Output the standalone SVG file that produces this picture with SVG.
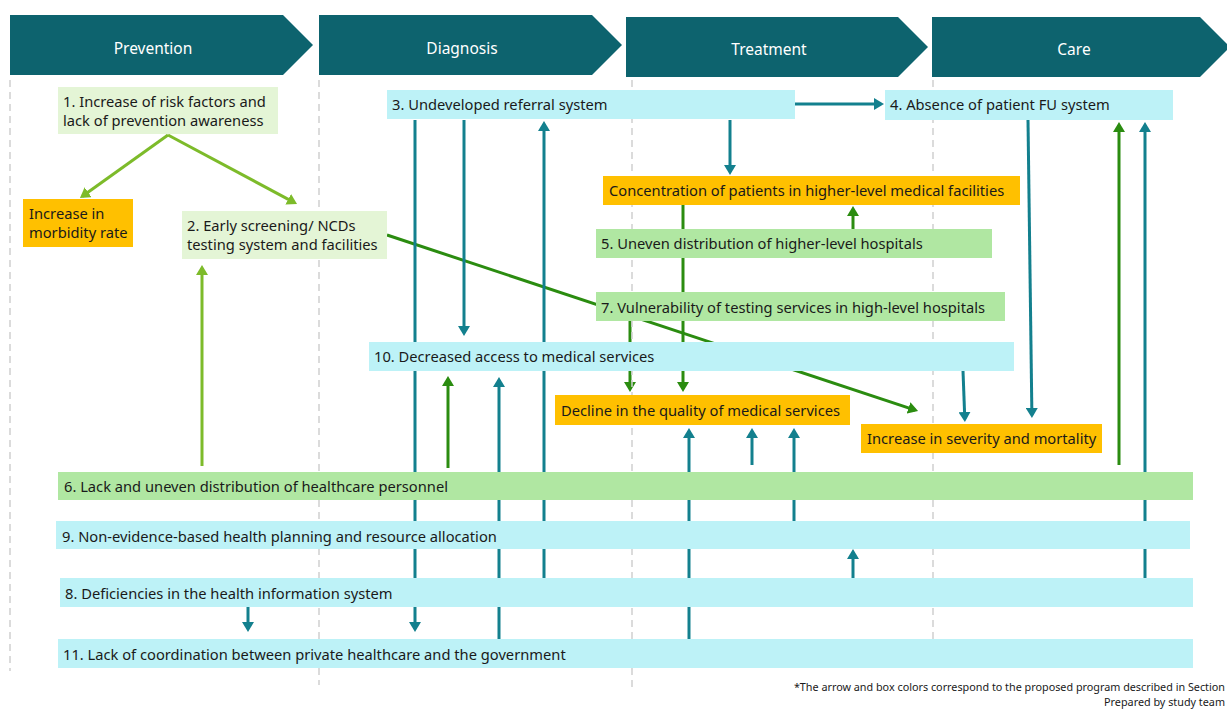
<svg xmlns="http://www.w3.org/2000/svg" width="1227" height="709" viewBox="0 0 1227 709">
  <style>
    .hdr { fill: #0d636e; }
    .hdr-t { fill: #ffffff; font-family: "Noto Sans", "Open Sans", sans-serif; font-size: 15.5px; text-anchor: middle; }
    .t { fill: #1a1a1a; font-family: "Noto Sans", "Open Sans", sans-serif; font-size: 14.7px; }
    .lg { fill: #e4f5d6; }
    .mg { fill: #b0e7a2; }
    .cy { fill: #bdf2f7; }
    .or { fill: #ffc000; }
    .grid { stroke: #cfcfcf; stroke-width: 1.5; stroke-dasharray: 7 5; fill: none; }
    .teal { stroke: #13808e; stroke-width: 3; fill: none; marker-end: url(#ah-teal); }
    .dg { stroke: #2b8c10; stroke-width: 3; fill: none; marker-end: url(#ah-dg); }
    .lgr { stroke: #7dbb2a; stroke-width: 3; fill: none; marker-end: url(#ah-lg); }
    .note { fill: #1a1a1a; font-family: "Noto Sans", "Open Sans", sans-serif; font-size: 10.8px; text-anchor: end; }
  </style>
  <defs>
    <marker id="ah-teal" markerUnits="userSpaceOnUse" markerWidth="10" markerHeight="12" refX="7" refY="6" orient="auto">
      <path d="M0,0 L10,6 L0,12 z" fill="#13808e"/>
    </marker>
    <marker id="ah-dg" markerUnits="userSpaceOnUse" markerWidth="10" markerHeight="12" refX="7" refY="6" orient="auto">
      <path d="M0,0 L10,6 L0,12 z" fill="#2b8c10"/>
    </marker>
    <marker id="ah-lg" markerUnits="userSpaceOnUse" markerWidth="10" markerHeight="12" refX="7" refY="6" orient="auto">
      <path d="M0,0 L10,6 L0,12 z" fill="#7dbb2a"/>
    </marker>
  </defs>

  <rect width="1227" height="709" fill="#ffffff"/>

  <!-- stage headers -->
  <g id="stage-prevention">
    <polygon class="hdr" points="10,15 283,15 313,45 283,75 10,75"/>
    <text class="hdr-t" x="153" y="54">Prevention</text>
  </g>
  <g id="stage-diagnosis">
    <polygon class="hdr" points="319,15 592,15 622,45 592,75 319,75"/>
    <text class="hdr-t" x="462" y="54">Diagnosis</text>
  </g>
  <g id="stage-treatment">
    <polygon class="hdr" points="626,17 898,17 928,47 898,77 626,77"/>
    <text class="hdr-t" x="769" y="55">Treatment</text>
  </g>
  <g id="stage-care">
    <polygon class="hdr" points="932,17 1200,17 1230,47 1200,77 932,77"/>
    <text class="hdr-t" x="1074" y="55">Care</text>
  </g>

  <!-- connectors -->
  <g id="connectors">
    <!-- light green -->
    <path class="lgr" d="M168,135 L82.4,196.3"/>
    <path class="lgr" d="M168,135 L294.4,202.6"/>
    <path class="lgr" d="M202,466 V268"/>
    <!-- dark green -->
    <path class="dg" d="M387,235 L915.2,410.1"/>
    <path class="dg" d="M853,229 V209"/>
    <path class="dg" d="M683,205 V389"/>
    <path class="dg" d="M630,321 V389"/>
    <path class="dg" d="M448,468 V379"/>
    <path class="dg" d="M1119,465 V125"/>
    <!-- teal -->
    <path class="teal" d="M795,104 H881"/>
    <path class="teal" d="M415,120 V629"/>
    <path class="teal" d="M248,607 V629"/>
    <path class="teal" d="M464,120 V333"/>
    <path class="teal" d="M544,578 V124"/>
    <path class="teal" d="M499,639 V380"/>
    <path class="teal" d="M730,120 V172"/>
    <path class="teal" d="M689,639 V431"/>
    <path class="teal" d="M752,465 V431"/>
    <path class="teal" d="M794,521 V431"/>
    <path class="teal" d="M853,578 V552"/>
    <path class="teal" d="M963,371 L964.8,419"/>
    <path class="teal" d="M1028,120 L1031.9,415"/>
    <path class="teal" d="M1145,578 V125"/>
  </g>

  <!-- stage separators -->
  <g id="separators">
    <line class="grid" x1="10" y1="80" x2="10" y2="671"/>
    <line class="grid" x1="319" y1="80" x2="319" y2="685"/>
    <line class="grid" x1="632" y1="80" x2="632" y2="688"/>
    <line class="grid" x1="933" y1="80" x2="933" y2="668"/>
  </g>

  <!-- nodes -->
  <g id="n1">
    <rect class="lg" x="58" y="87" width="220" height="47"/>
    <text class="t" x="63" y="107">1. Increase of risk factors and</text>
    <text class="t" x="63" y="126">lack of prevention awareness</text>
  </g>
  <g id="morbidity">
    <rect class="or" x="23" y="199" width="110" height="48"/>
    <text class="t" x="29" y="219">Increase in</text>
    <text class="t" x="29" y="238">morbidity rate</text>
  </g>
  <g id="n2">
    <rect class="lg" x="182" y="211" width="205" height="48"/>
    <text class="t" x="187" y="231">2. Early screening/ NCDs</text>
    <text class="t" x="187" y="250">testing system and facilities</text>
  </g>
  <g id="n3">
    <rect class="cy" x="387" y="90" width="408" height="29"/>
    <text class="t" x="392" y="110">3. Undeveloped referral system</text>
  </g>
  <g id="n4">
    <rect class="cy" x="885" y="90" width="288" height="30"/>
    <text class="t" x="890" y="110">4. Absence of patient FU system</text>
  </g>
  <g id="concentration">
    <rect class="or" x="603" y="176" width="417" height="29"/>
    <text class="t" x="609" y="196">Concentration of patients in higher-level medical facilities</text>
  </g>
  <g id="n5">
    <rect class="mg" x="596" y="229" width="396" height="29"/>
    <text class="t" x="601" y="249">5. Uneven distribution of higher-level hospitals</text>
  </g>
  <g id="n7">
    <rect class="mg" x="596" y="292" width="409" height="29"/>
    <text class="t" x="601" y="313">7. Vulnerability of testing services in high-level hospitals</text>
  </g>
  <g id="n10">
    <rect class="cy" x="369" y="342" width="645" height="29"/>
    <text class="t" x="374" y="362">10. Decreased access to medical services</text>
  </g>
  <g id="quality">
    <rect class="or" x="555" y="395" width="295" height="30"/>
    <text class="t" x="561" y="416">Decline in the quality of medical services</text>
  </g>
  <g id="severity">
    <rect class="or" x="861" y="424" width="241" height="29"/>
    <text class="t" x="867" y="444">Increase in severity and mortality</text>
  </g>
  <g id="n6">
    <rect class="mg" x="58" y="472" width="1135" height="28"/>
    <text class="t" x="64" y="492">6. Lack and uneven distribution of healthcare personnel</text>
  </g>
  <g id="n9">
    <rect class="cy" x="56" y="521" width="1134" height="28"/>
    <text class="t" x="62" y="542">9. Non-evidence-based health planning and resource allocation</text>
  </g>
  <g id="n8">
    <rect class="cy" x="60" y="578" width="1133" height="29"/>
    <text class="t" x="65" y="599">8. Deficiencies in the health information system</text>
  </g>
  <g id="n11">
    <rect class="cy" x="58" y="639" width="1135" height="29"/>
    <text class="t" x="63" y="660">11. Lack of coordination between private healthcare and the government</text>
  </g>

  <!-- footnote -->
  <text class="note" x="1225" y="691">*The arrow and box colors correspond to the proposed program described in Section</text>
  <text class="note" x="1225" y="706">Prepared by study team</text>
</svg>
